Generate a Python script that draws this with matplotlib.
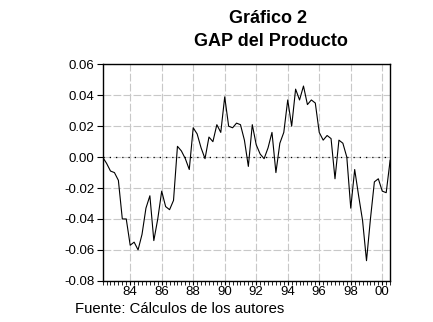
import matplotlib
matplotlib.use("Agg")
import matplotlib.pyplot as plt
import numpy as np

plt.rcParams['font.family'] = ['Liberation Sans', 'DejaVu Sans']

# Quarterly output gap, 1982Q2 - 2000Q3
start_year = 1982.25
gap = [0.000, -0.004, -0.009, -0.010, -0.015, -0.040, -0.040, -0.057,
       -0.055, -0.060, -0.050, -0.033, -0.025, -0.054, -0.040, -0.022,
       -0.032, -0.034, -0.028, 0.007, 0.004, -0.001, -0.008, 0.019,
       0.015, 0.006, -0.001, 0.013, 0.010, 0.021, 0.016, 0.039,
       0.020, 0.019, 0.022, 0.021, 0.011, -0.006, 0.021, 0.008,
       0.002, -0.001, 0.006, 0.016, -0.010, 0.009, 0.016, 0.037,
       0.020, 0.044, 0.037, 0.046, 0.034, 0.037, 0.035, 0.016,
       0.011, 0.014, 0.012, -0.014, 0.011, 0.009, 0.000, -0.033,
       -0.008, -0.025, -0.041, -0.067, -0.040, -0.016, -0.014, -0.022,
       -0.023, -0.002]
year_ticks = [1984, 1986, 1988, 1990, 1992, 1994, 1996, 1998, 2000]
year_labels = ['84', '86', '88', '90', '92', '94', '96', '98', '00']
y_ticks = [-0.08, -0.06, -0.04, -0.02, 0.00, 0.02, 0.04, 0.06]

t = start_year + 0.25 * np.arange(len(gap))

fig = plt.figure(figsize=(4.33, 3.22), dpi=100)
ax = fig.add_axes([0.237, 0.128, 0.664, 0.672])

ax.plot(t, gap, color='black', lw=0.8)
ax.axhline(0, color='black', lw=0.9, ls=(0, (1, 4)))

ax.set_xlim(t[0], t[-1])
ax.set_ylim(-0.08, 0.06)
ax.set_xticks(year_ticks)
ax.set_xticklabels(year_labels)
ax.set_xticks(np.arange(1982.25, t[-1] + 0.01, 0.25), minor=True)
ax.set_yticks(y_ticks)
ax.set_yticklabels(['%.2f' % v for v in y_ticks])

ax.grid(True, which='major', color='#c8c8c8', lw=0.8, ls=(0, (7, 2)))
ax.tick_params(axis='y', which='major', labelsize=9.5, direction='out',
               length=4, width=0.8, color='black', pad=2)
ax.tick_params(axis='x', which='major', labelsize=9.5, direction='out',
               length=3, width=0.8, color='black', pad=1)
ax.tick_params(axis='x', which='minor', direction='out', length=3, width=0.6)
ax.tick_params(axis='y', which='minor', left=False)
for s in ax.spines.values():
    s.set_linewidth(1.0)
    s.set_color('black')

fig.text(0.618, 0.944, 'Gráfico 2', ha='center', va='center',
         fontsize=13, fontweight='bold')
fig.text(0.625, 0.870, 'GAP del Producto', ha='center', va='center',
         fontsize=13, fontweight='bold')
fig.text(0.173, 0.040, 'Fuente: Cálculos de los autores', ha='left',
         va='center', fontsize=10.7)

fig.savefig('out.png', dpi=100)
